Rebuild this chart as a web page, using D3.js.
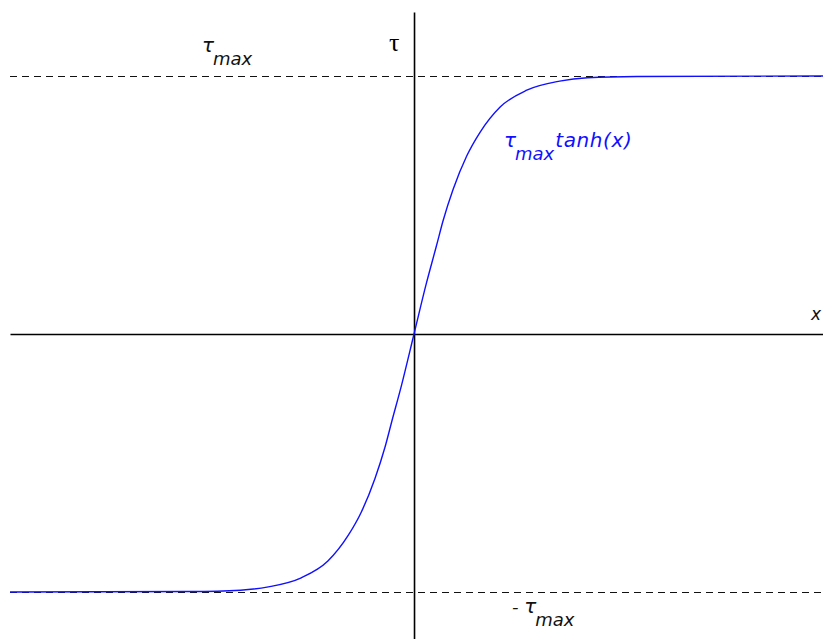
<!DOCTYPE html>
<html>
<head>
<meta charset="utf-8">
<script src="https://cdn.jsdelivr.net/npm/d3@7"></script>
<style>
  body { margin: 0; background: #ffffff; }
  .label { font-family: "DejaVu Sans", sans-serif; font-style: italic; }
</style>
</head>
<body>
<div class="chart"></div>
<script>

// Points (x in units, tau as fraction of tau max)
var xValues = [-6.52, -3.6, -2.8, -2.35, -1.82, -1.39, -1.06, -0.85, -0.63, -0.47, -0.36, -0.2, 0,
               0.2, 0.36, 0.47, 0.63, 0.85, 1.06, 1.39, 1.82, 2.35, 2.8, 3.6, 6.6];
var tauValues = [-1, -0.998, -0.993, -0.98, -0.945, -0.88, -0.78, -0.69, -0.56, -0.44, -0.34, -0.197, 0,
                 0.197, 0.34, 0.44, 0.56, 0.69, 0.78, 0.88, 0.945, 0.98, 0.993, 0.998, 1];

// Levels of the dashed limit lines
var limitLevels = [1, -1];

// Dimensions
var w = 823;
var h = 639;
var plotLeft = 10;
var plotRight = 823;
var plotTop = 76;
var plotBottom = 592;

var x = d3.scaleLinear()
      .domain([-6.52, 6.6])
      .range([plotLeft, plotRight]);

var y = d3.scaleLinear()
      .domain([-1, 1])
      .range([plotBottom, plotTop]);

// Scale for the full length of the vertical axis
var yAxisScale = d3.scaleLinear()
      .domain([y.invert(h), y.invert(12)])
      .range([h, 12]);

var svg = d3.select(".chart")
  .append("svg")
  .attr("width", w)
  .attr("height", h);

// Dashed lines at +/- tau max
svg.selectAll(".limit")
  .data(limitLevels)
  .enter()
  .append("line")
    .attr("class", "limit")
    .attr("x1", plotLeft)
    .attr("x2", plotRight)
    .attr("y1", function(d) { return y(d) + 0.5; })
    .attr("y2", function(d) { return y(d) + 0.5; })
    .style("stroke", "#111")
    .style("stroke-width", 1)
    .style("stroke-dasharray", "7,5");

// Axes through the origin, no ticks
var xAxis = d3.axisBottom(x).tickValues([]).tickSizeOuter(0);
var yAxis = d3.axisLeft(yAxisScale).tickValues([]).tickSizeOuter(0);

svg.append("g")
  .attr("transform", "translate(0," + y(0) + ")")
  .call(xAxis)
  .select(".domain")
    .style("stroke", "#000")
    .style("stroke-width", 1.6);

svg.append("g")
  .attr("transform", "translate(" + x(0) + ",0)")
  .call(yAxis)
  .select(".domain")
    .style("stroke", "#000")
    .style("stroke-width", 1.6);

// The curve
var line = d3.line()
      .x(function(d, i) { return x(xValues[i]); })
      .y(function(d) { return y(d); })
      .curve(d3.curveMonotoneX);

svg.append("path")
  .datum(tauValues)
  .attr("d", line)
  .style("fill", "none")
  .style("stroke", "#1010ff")
  .style("stroke-width", 1.4);

// Labels
function tauMax(g, xPos, yPos, color, prefix) {
    var t = g.append("text")
      .attr("class", "label")
      .attr("x", xPos)
      .attr("y", yPos)
      .style("font-size", "18px")
      .style("fill", color);
    if (prefix) t.append("tspan").text(prefix);
    t.append("tspan")
      .style("font-size", "20px")
      .text("τ");
    t.append("tspan")
      .attr("dy", 13)
      .attr("dx", -1)
      .text("max");
    return t;
}

tauMax(svg, 202, 52, "#111");
tauMax(svg, 512, 613, "#111", "- ");

var curveLabel = tauMax(svg, 504, 147, "#1010ff");
curveLabel.append("tspan")
  .attr("dy", -13)
  .attr("dx", 1)
  .style("font-size", "20px")
  .style("letter-spacing", "0.6px")
  .text("tanh(x)");

svg.append("text")
  .attr("x", 389)
  .attr("y", 51)
  .style("font-family", "Liberation Serif, serif")
  .style("font-size", "26px")
  .style("fill", "#000")
  .text("τ");

svg.append("text")
  .attr("class", "label")
  .attr("x", 811)
  .attr("y", 320)
  .style("font-size", "17px")
  .style("fill", "#111")
  .text("x");

</script>
</body>
</html>
